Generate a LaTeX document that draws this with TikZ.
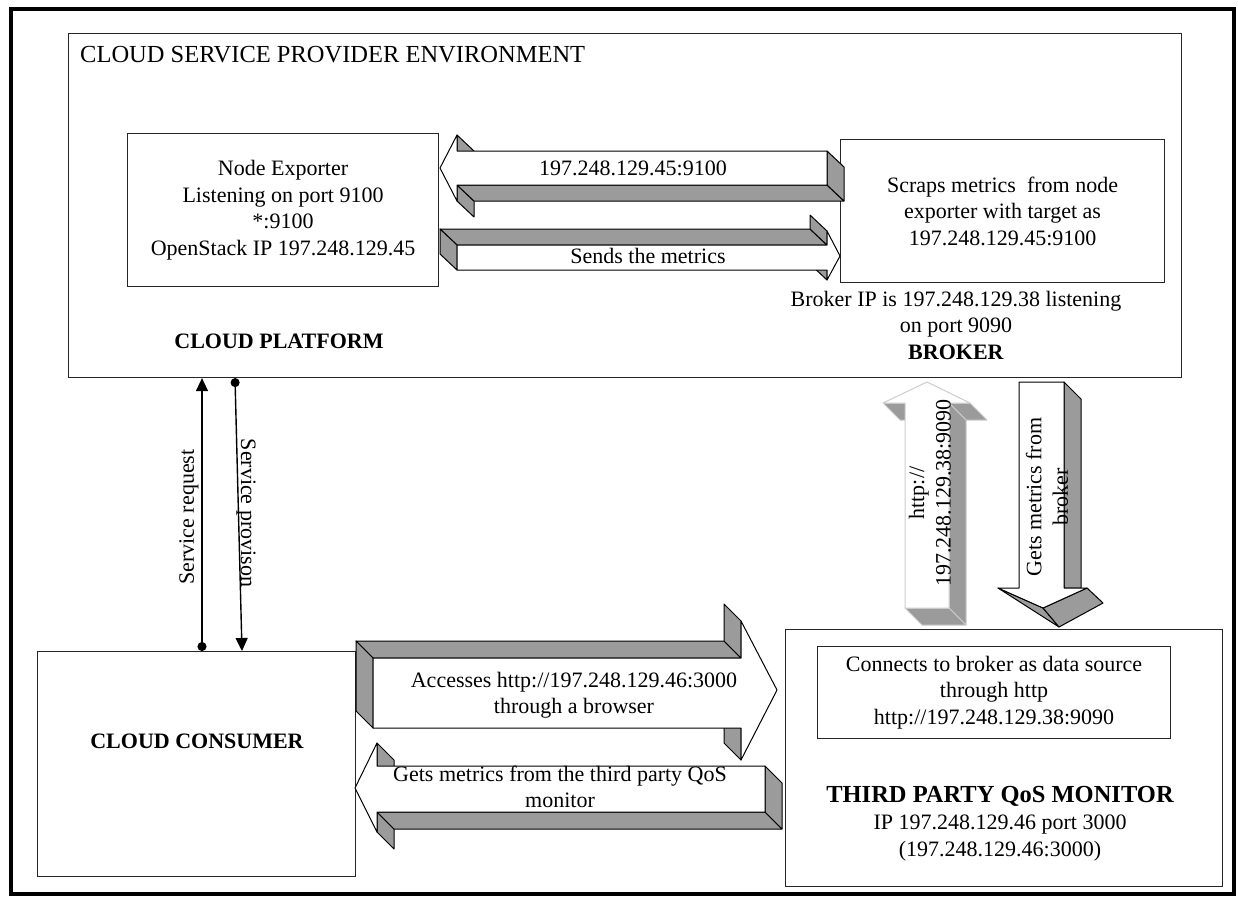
\documentclass[tikz,border=0pt]{standalone}
\usepackage{fontspec}
\setmainfont{Liberation Serif}
\usetikzlibrary{arrows.meta}
\definecolor{sidegray}{RGB}{155,155,155}
\definecolor{faintline}{RGB}{205,205,205}
\begin{document}
\begin{tikzpicture}[x=1pt,y=-1pt,
  box/.style={draw=black!85, line width=1.1pt, fill=white, inner sep=0pt},
  txt/.style={font=\fontsize{22}{26.5}\selectfont, align=center, inner sep=0pt},
  boldtxt/.style={font=\fontsize{22}{26.5}\selectfont\bfseries, inner sep=0pt},
  bigtxt/.style={font=\fontsize{24.5}{29}\selectfont, inner sep=0pt},
  bigbold/.style={font=\fontsize{24.5}{29}\selectfont\bfseries, inner sep=0pt},
  side/.style={fill=sidegray, draw=black, line width=1pt, line join=round},
  face/.style={fill=white, draw=black, line width=1pt, line join=round},
  sidelight/.style={fill=sidegray, draw=faintline, line width=1pt, line join=round},
  facelight/.style={fill=white, draw=faintline, line width=1pt, line join=round},
  conn/.style={draw=black, line width=1.4pt},
]
\useasboundingbox (0,0) rectangle (1238,898);
\fill[white] (0,0) rectangle (1238,898);

% outer frame
\draw[line width=3.5pt] (11,9) rectangle (1234,894);

% provider environment and its contents
\node[box, anchor=north west, minimum width=1113pt, minimum height=344pt] (csp) at (68,33) {};
\node[bigtxt, anchor=base west] (cspTitle) at (80,62) {CLOUD SERVICE PROVIDER ENVIRONMENT};

\node[box, txt, anchor=north west, minimum width=311pt, minimum height=153pt] (exporter) at (127,133)
  {Node Exporter\\Listening on port 9100\\*:9100\\OpenStack IP 197.248.129.45};
\node[boldtxt] (platform) at (279,341) {CLOUD PLATFORM};

\node[box, txt, anchor=north west, minimum width=324pt, minimum height=143pt] (broker) at (840,139)
  {Scraps metrics\ \ from node\\exporter with target as\\197.248.129.45:9100};
\node[txt] (brokerIP) at (956,325) {Broker IP is 197.248.129.38 listening\\on port 9090\\\textbf{BROKER}};

% consumer
\node[box, anchor=north west, minimum width=318pt, minimum height=225pt] (consumer) at (37,651) {};
\node[boldtxt] (consumerLbl) at (197,741) {CLOUD CONSUMER};

% third party monitor
\node[box, anchor=north west, minimum width=437pt, minimum height=257pt] (tpq) at (785,629) {};
\node[box, txt, anchor=north west, minimum width=353pt, minimum height=92pt] (source) at (817,646)
  {Connects to broker as data source\\through http\\http://197.248.129.38:9090};
\node[bigbold, anchor=base] (tpqTitle) at (1000,802) {THIRD PARTY QoS MONITOR};
\node[txt] (tpqIP) at (1000,838) {IP 197.248.129.46 port 3000\\(197.248.129.46:3000)};

% service request / provision
\coordinate (reqx) at (202,0);
\coordinate (provTop) at (235,0);
\coordinate (provBot) at (242,0);
\draw[conn, {Circle[length=9pt]}-{Triangle[length=13pt,width=12pt]}]
  (consumer.north -| reqx) -- (csp.south -| reqx);
\draw[conn, {Circle[length=9pt]}-{Triangle[length=13pt,width=12pt]}]
  (csp.south -| provTop) -- (consumer.north -| provBot);
\node[txt, rotate=90] (reqLbl) at (189,517) {Service request};
\node[txt, rotate=-90] (provLbl) at (246,513) {Service provison};

% 3D arrow: broker -> exporter (scrape)
\draw[side] (457,135) -- (474,151) -- (474,167) -- (457,151) -- cycle;
\draw[side] (457,185) -- (474,201) -- (474,217) -- (457,201) -- cycle;
\draw[side] (457,185) -- (827,185) -- (844,201) -- (474,201) -- cycle;
\draw[side] (827,151) -- (844,167) -- (844,201) -- (827,185) -- cycle;
\draw[face] (440,168) -- (457,135) -- (457,151) -- (827,151) -- (827,185) -- (457,185) -- (457,201) -- cycle;
\node[txt] (scrapeLbl) at (633,168) {197.248.129.45:9100};

% 3D arrow: exporter -> broker (metrics)
\draw[side] (457,245) -- (440,229) -- (810,229) -- (827,245) -- cycle;
\draw[side] (457,245) -- (440,229) -- (440,254) -- (457,270) -- cycle;
\draw[side] (827,231) -- (810,215) -- (810,229) -- (827,245) -- cycle;
\draw[side] (827,270) -- (810,254) -- (810,264) -- (827,280) -- cycle;
\draw[face] (840,256) -- (827,231) -- (827,245) -- (457,245) -- (457,270) -- (827,270) -- (827,280) -- cycle;
\node[txt] (sendLbl) at (648,256) {Sends the metrics};

% 3D arrow: consumer -> monitor
\draw[side] (373,658) -- (356,641) -- (724,641) -- (741,658) -- cycle;
\draw[side] (373,658) -- (356,641) -- (356,711) -- (373,728) -- cycle;
\draw[side] (741,621) -- (724,604) -- (724,641) -- (741,658) -- cycle;
\draw[side] (741,728) -- (724,711) -- (724,743) -- (741,760) -- cycle;
\draw[face] (777,690) -- (741,621) -- (741,658) -- (373,658) -- (373,728) -- (741,728) -- (741,760) -- cycle;
\node[txt] (accessLbl) at (574,695) {Accesses http://197.248.129.46:3000\\through a browser};

% 3D arrow: monitor -> consumer
\draw[side] (377,743) -- (394,760) -- (394,783) -- (377,766) -- cycle;
\draw[side] (377,812) -- (394,829) -- (394,849) -- (377,832) -- cycle;
\draw[side] (377,812) -- (765,812) -- (782,829) -- (394,829) -- cycle;
\draw[side] (765,766) -- (782,783) -- (782,829) -- (765,812) -- cycle;
\draw[face] (355,788) -- (377,743) -- (377,766) -- (765,766) -- (765,812) -- (377,812) -- (377,832) -- cycle;
\node[txt] (getsLbl) at (560,787) {Gets metrics from the third party QoS\\monitor};

% 3D arrow: monitor -> broker (data source)
\draw[sidelight] (883,403) -- (900,420) -- (922,420) -- (905,403) -- cycle;
\draw[sidelight] (949,403) -- (970,403) -- (987,420) -- (966,420) -- cycle;
\draw[sidelight] (949,403) -- (966,420) -- (966,625) -- (949,608) -- cycle;
\draw[sidelight] (905,608) -- (949,608) -- (966,625) -- (922,625) -- cycle;
\draw[facelight] (927,382) -- (970,403) -- (949,403) -- (949,608) -- (905,608) -- (905,403) -- (883,403) -- cycle;
\node[txt, rotate=90] (httpLbl) at (930,493) {http://\\197.248.129.38:9090};

% 3D arrow: broker -> monitor
\draw[side] (1064,382) -- (1081,399) -- (1081,588) -- (1064,588) -- cycle;
\draw[side] (998,588) -- (1043,608) -- (1059,627) -- cycle;
\draw[side] (1043,608) -- (1087,588) -- (1103,603) -- (1059,627) -- cycle;
\draw[face] (1019,382) -- (1064,382) -- (1064,588) -- (1087,588) -- (1043,608) -- (998,588) -- (1019,588) -- cycle;
\node[txt, rotate=90] (pullLbl) at (1047,497) {Gets metrics from\\broker};
\end{tikzpicture}
\end{document}
